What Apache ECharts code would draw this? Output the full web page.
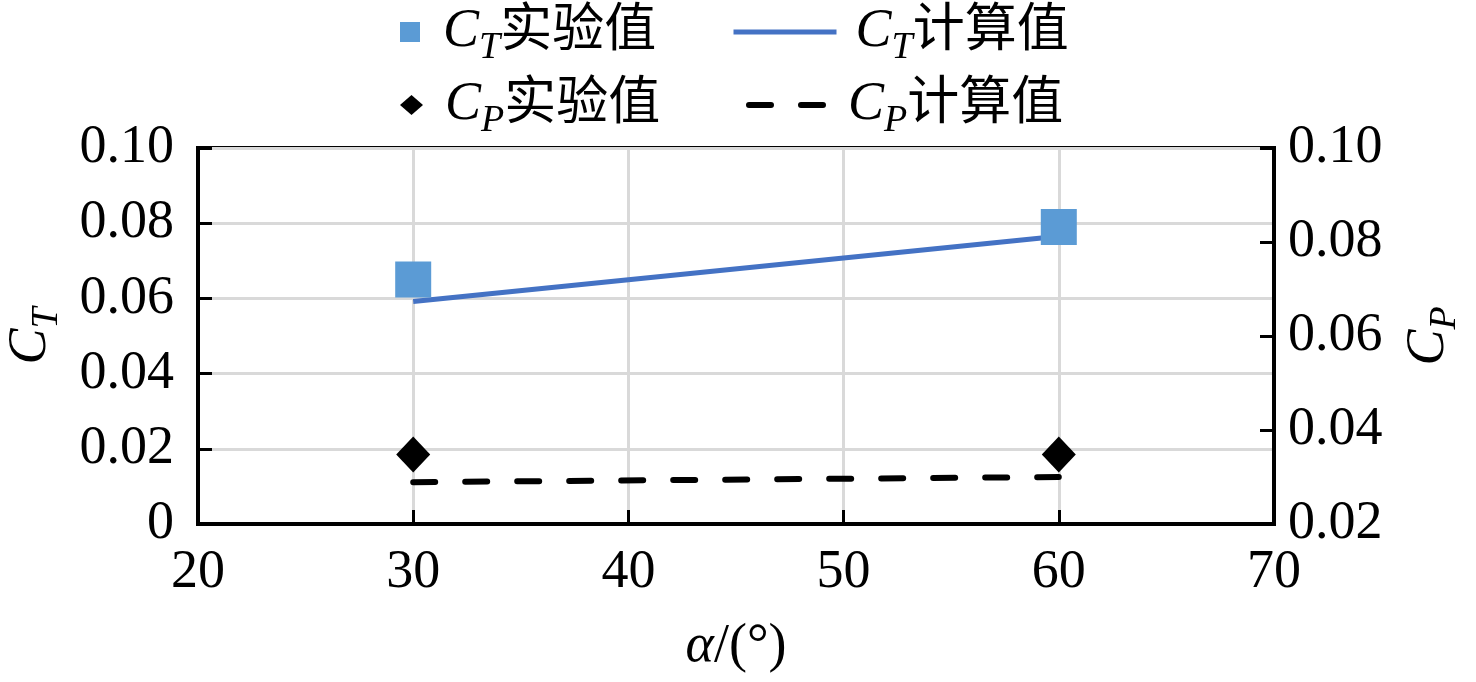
<!DOCTYPE html>
<html>
<head>
    <meta charset="utf-8">
    <title>CT / CP</title>
    <script src="https://cdn.jsdelivr.net/npm/echarts@6/dist/echarts.min.js"></script>
    <style>
        html, body { margin: 0; padding: 0; background: #fff; }
    </style>
</head>
<body>
<div id="main" style="width: 1476px;height:682px;"></div>
<script type="text/javascript">

    // 数据
    let alpha = [30, 60];
    let ctExp = [0.065, 0.079];
    let ctCalc = [0.0592, 0.0765];
    let cpExp = [0.0348, 0.0348];
    let cpCalc = [0.0289, 0.0300];
    let xTicks = [20, 70, 10];
    let ctTicks = [0, 0.10, 0.02];
    let cpTicks = [0.02, 0.10, 0.02];

    let labels = {
        'CT实验值': '{c|C}{s|T}{z|实验值}',
        'CT计算值': '{c|C}{s|T}{z|计算值}',
        'CP实验值': '{c|C}{s|P}{z|实验值}',
        'CP计算值': '{c|C}{s|P}{z|计算值}'
    };

    function pairs(xs, ys) {
        return xs.map(function (x, i) { return [x, ys[i]]; });
    }

    const serif = 'Liberation Serif';
    const cjk = 'Liberation Serif, Noto Sans CJK SC';

    function richFor(padLeft) {
        return {
            c: { fontFamily: serif, fontStyle: 'italic', fontSize: 54, lineHeight: 54, color: '#000', padding: [0, 0, 0, padLeft] },
            s: { fontFamily: serif, fontStyle: 'italic', fontSize: 38, lineHeight: 38, color: '#000', padding: [32, 0, 0, 0] },
            z: { fontFamily: cjk, fontSize: 52, lineHeight: 54, color: '#000' }
        };
    }

    function legendAt(name, left, top, w, h, padLeft, extra) {
        let l = {
            left: left,
            top: top,
            padding: 0,
            selectedMode: false,
            itemWidth: w,
            itemHeight: h,
            data: [name],
            formatter: function (n) { return labels[n]; },
            textStyle: { rich: richFor(padLeft) }
        };
        return Object.assign(l, extra || {});
    }

    let axisNameRich = {
        c: { fontFamily: serif, fontStyle: 'italic', fontSize: 54, lineHeight: 54, color: '#000' },
        s: { fontFamily: serif, fontStyle: 'italic', fontSize: 38, lineHeight: 38, color: '#000', padding: [32, 0, 0, 0] }
    };

    function fmt(v) {
        return v === 0 ? '0' : v.toFixed(2);
    }

    let hideDot = { color: 'rgba(0,0,0,0)', opacity: 0, borderWidth: 0 };

    let option = {
        animation: false,
        backgroundColor: '#fff',
        legend: [
            legendAt('CT实验值', 400, -3, 20, 20, 18),
            legendAt('CT计算值', 731, -3, 103, 20, 14, {
                itemStyle: hideDot,
                lineStyle: { color: '#4472c4', width: 5, cap: 'butt' }
            }),
            legendAt('CP实验值', 400, 70, 23, 20, 17),
            legendAt('CP计算值', 746, 70, 76, 20, 18, {
                itemStyle: hideDot,
                lineStyle: { color: '#000', width: 6, type: [22, 30], cap: 'round' }
            })
        ],
        grid: {
            left: 198,
            right: 202,
            top: 148,
            bottom: 158,
            outerBoundsMode: 'none',
            containLabel: false,
            show: true,
            borderColor: '#000',
            borderWidth: 4
        },
        xAxis: {
            type: 'value',
            min: xTicks[0],
            max: xTicks[1],
            interval: xTicks[2],
            name: '{a|α}{n|/(°)}',
            nameLocation: 'middle',
            nameGap: 96,
            nameTextStyle: {
                rich: {
                    a: { fontFamily: serif, fontStyle: 'italic', fontSize: 54, color: '#000' },
                    n: { fontFamily: serif, fontSize: 54, color: '#000' }
                }
            },
            axisLine: { lineStyle: { color: '#000', width: 4 } },
            axisTick: { inside: true, length: 14, lineStyle: { color: '#000', width: 3 } },
            axisLabel: { margin: 22, fontFamily: serif, fontSize: 54, color: '#000' },
            splitLine: { show: true, lineStyle: { color: '#d9d9d9', width: 3 } }
        },
        yAxis: [
            {
                type: 'value',
                position: 'left',
                min: ctTicks[0],
                max: ctTicks[1],
                interval: ctTicks[2],
                name: '{c|C}{s|T}',
                nameLocation: 'middle',
                nameRotate: 90,
                nameGap: 140,
                nameTextStyle: { rich: axisNameRich },
                axisLine: { show: true, lineStyle: { color: '#000', width: 4 } },
                axisTick: { show: true, inside: true, length: 14, lineStyle: { color: '#000', width: 3 } },
                axisLabel: { margin: 24, fontFamily: serif, fontSize: 54, color: '#000', formatter: fmt },
                splitLine: { show: true, lineStyle: { color: '#d9d9d9', width: 3 } }
            },
            {
                type: 'value',
                position: 'right',
                min: cpTicks[0],
                max: cpTicks[1],
                interval: cpTicks[2],
                name: '{c|C}{s|P}',
                nameLocation: 'middle',
                nameRotate: 90,
                nameGap: 128,
                nameTextStyle: { rich: axisNameRich },
                axisLine: { show: true, lineStyle: { color: '#000', width: 4 } },
                axisTick: { show: true, inside: true, length: 14, lineStyle: { color: '#000', width: 3 } },
                axisLabel: { margin: 14, fontFamily: serif, fontSize: 54, color: '#000', formatter: fmt },
                splitLine: { show: false }
            }
        ],
        series: [
            {
                name: 'CT计算值',
                type: 'line',
                yAxisIndex: 0,
                symbol: 'none',
                z: 2,
                lineStyle: { color: '#4472c4', width: 5 },
                itemStyle: { color: '#4472c4' },
                data: pairs(alpha, ctCalc)
            },
            {
                name: 'CP计算值',
                type: 'line',
                yAxisIndex: 1,
                symbol: 'none',
                z: 2,
                lineStyle: { color: '#000', width: 6, type: [22, 30], cap: 'round' },
                itemStyle: { color: '#000' },
                data: pairs(alpha, cpCalc)
            },
            {
                name: 'CT实验值',
                type: 'scatter',
                yAxisIndex: 0,
                symbol: 'rect',
                symbolSize: 36,
                z: 3,
                itemStyle: { color: '#5b9bd5', opacity: 1 },
                data: pairs(alpha, ctExp)
            },
            {
                name: 'CP实验值',
                type: 'scatter',
                yAxisIndex: 1,
                symbol: 'diamond',
                symbolSize: [34, 36],
                z: 3,
                itemStyle: { color: '#000', opacity: 1 },
                data: pairs(alpha, cpExp)
            }
        ]
    };

    // 基于准备好的dom，初始化echarts实例
    let myChart = echarts.init(document.getElementById('main'));
    myChart.setOption(option);
</script>
</body>
</html>
